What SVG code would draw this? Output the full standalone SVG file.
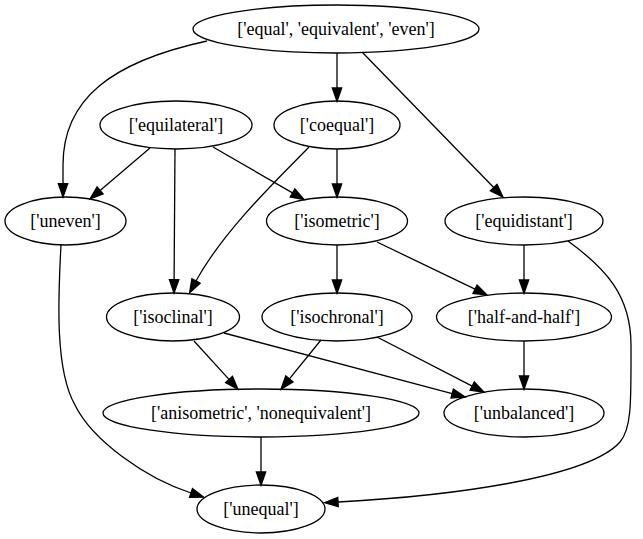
<svg xmlns="http://www.w3.org/2000/svg" width="643" height="539" viewBox="0 0 643 539">
<style>
.n ellipse{fill:none;stroke:#000;stroke-width:1.3}
.n text{font-family:"Liberation Serif","Times New Roman",serif;font-size:18px;text-anchor:middle;fill:#000}
#edges path{fill:none;stroke:#000;stroke-width:1.3;marker-end:url(#ah)}
</style>
<defs>
<marker id="ah" markerUnits="userSpaceOnUse" viewBox="0 0 14 10" markerWidth="14" markerHeight="10" refX="0" refY="5" orient="auto" overflow="visible">
<path d="M0,0.33 L13.3,5 L0,9.67 Z" fill="#000" stroke="#000" stroke-width="1.3"/>
</marker>
</defs>
<rect width="643" height="539" fill="#fff"/>
<g id="edges">
<path d="M207,41 C110,62 63,100 63,165 L63,183.7"/>
<path d="M337,53 L337,88"/>
<path d="M362,52 L493.7,187.5"/>
<path d="M150,148 L100.1,190.4"/>
<path d="M175,149 L174.1,279.7"/>
<path d="M213,147 L292.5,192.9"/>
<path d="M337,149 L337,184"/>
<path d="M309,147 C285,172 225,228 196,281"/>
<path d="M61,245 C58,300 55,370 75,405 C92,440 145,478 191,493"/>
<path d="M337,245 L337,280"/>
<path d="M377,242 L475,289.2"/>
<path d="M524,245 L524,280"/>
<path d="M568,241 C605,268 631,295 631,345 C631,400 632,428 620,442 C588,478 450,496 338,502"/>
<path d="M194,341 L229,379.4"/>
<path d="M224,333 L452.2,393.6"/>
<path d="M321,340 L289.4,378.9"/>
<path d="M377,337 L472.2,386.1"/>
<path d="M524,341 L524,376"/>
<path d="M261,437 L261,472"/>
</g>
<g id="n_equal" class="n"><ellipse cx="336" cy="29" rx="143" ry="24"/><text x="336" y="35">['equal', 'equivalent', 'even']</text></g>
<g id="n_equilateral" class="n"><ellipse cx="176" cy="125" rx="76" ry="24"/><text x="176" y="131">['equilateral']</text></g>
<g id="n_coequal" class="n"><ellipse cx="337" cy="125" rx="63" ry="24"/><text x="337" y="131">['coequal']</text></g>
<g id="n_uneven" class="n"><ellipse cx="65.5" cy="221" rx="60.5" ry="24"/><text x="65.5" y="227">['uneven']</text></g>
<g id="n_isometric" class="n"><ellipse cx="337" cy="221" rx="70.5" ry="24"/><text x="337" y="227">['isometric']</text></g>
<g id="n_equidistant" class="n"><ellipse cx="524" cy="221" rx="79" ry="24"/><text x="524" y="227">['equidistant']</text></g>
<g id="n_isoclinal" class="n"><ellipse cx="173" cy="317" rx="66.5" ry="24"/><text x="173" y="323">['isoclinal']</text></g>
<g id="n_isochronal" class="n"><ellipse cx="337" cy="317" rx="75" ry="24"/><text x="337" y="323">['isochronal']</text></g>
<g id="n_halfandhalf" class="n"><ellipse cx="524" cy="317" rx="87.5" ry="24"/><text x="524" y="323">['half-and-half']</text></g>
<g id="n_anisometric" class="n"><ellipse cx="261" cy="413" rx="158" ry="24"/><text x="261" y="419">['anisometric', 'nonequivalent']</text></g>
<g id="n_unbalanced" class="n"><ellipse cx="524" cy="413" rx="80" ry="24"/><text x="524" y="419">['unbalanced']</text></g>
<g id="n_unequal" class="n"><ellipse cx="261" cy="509" rx="64" ry="24"/><text x="261" y="515">['unequal']</text></g>
</svg>
